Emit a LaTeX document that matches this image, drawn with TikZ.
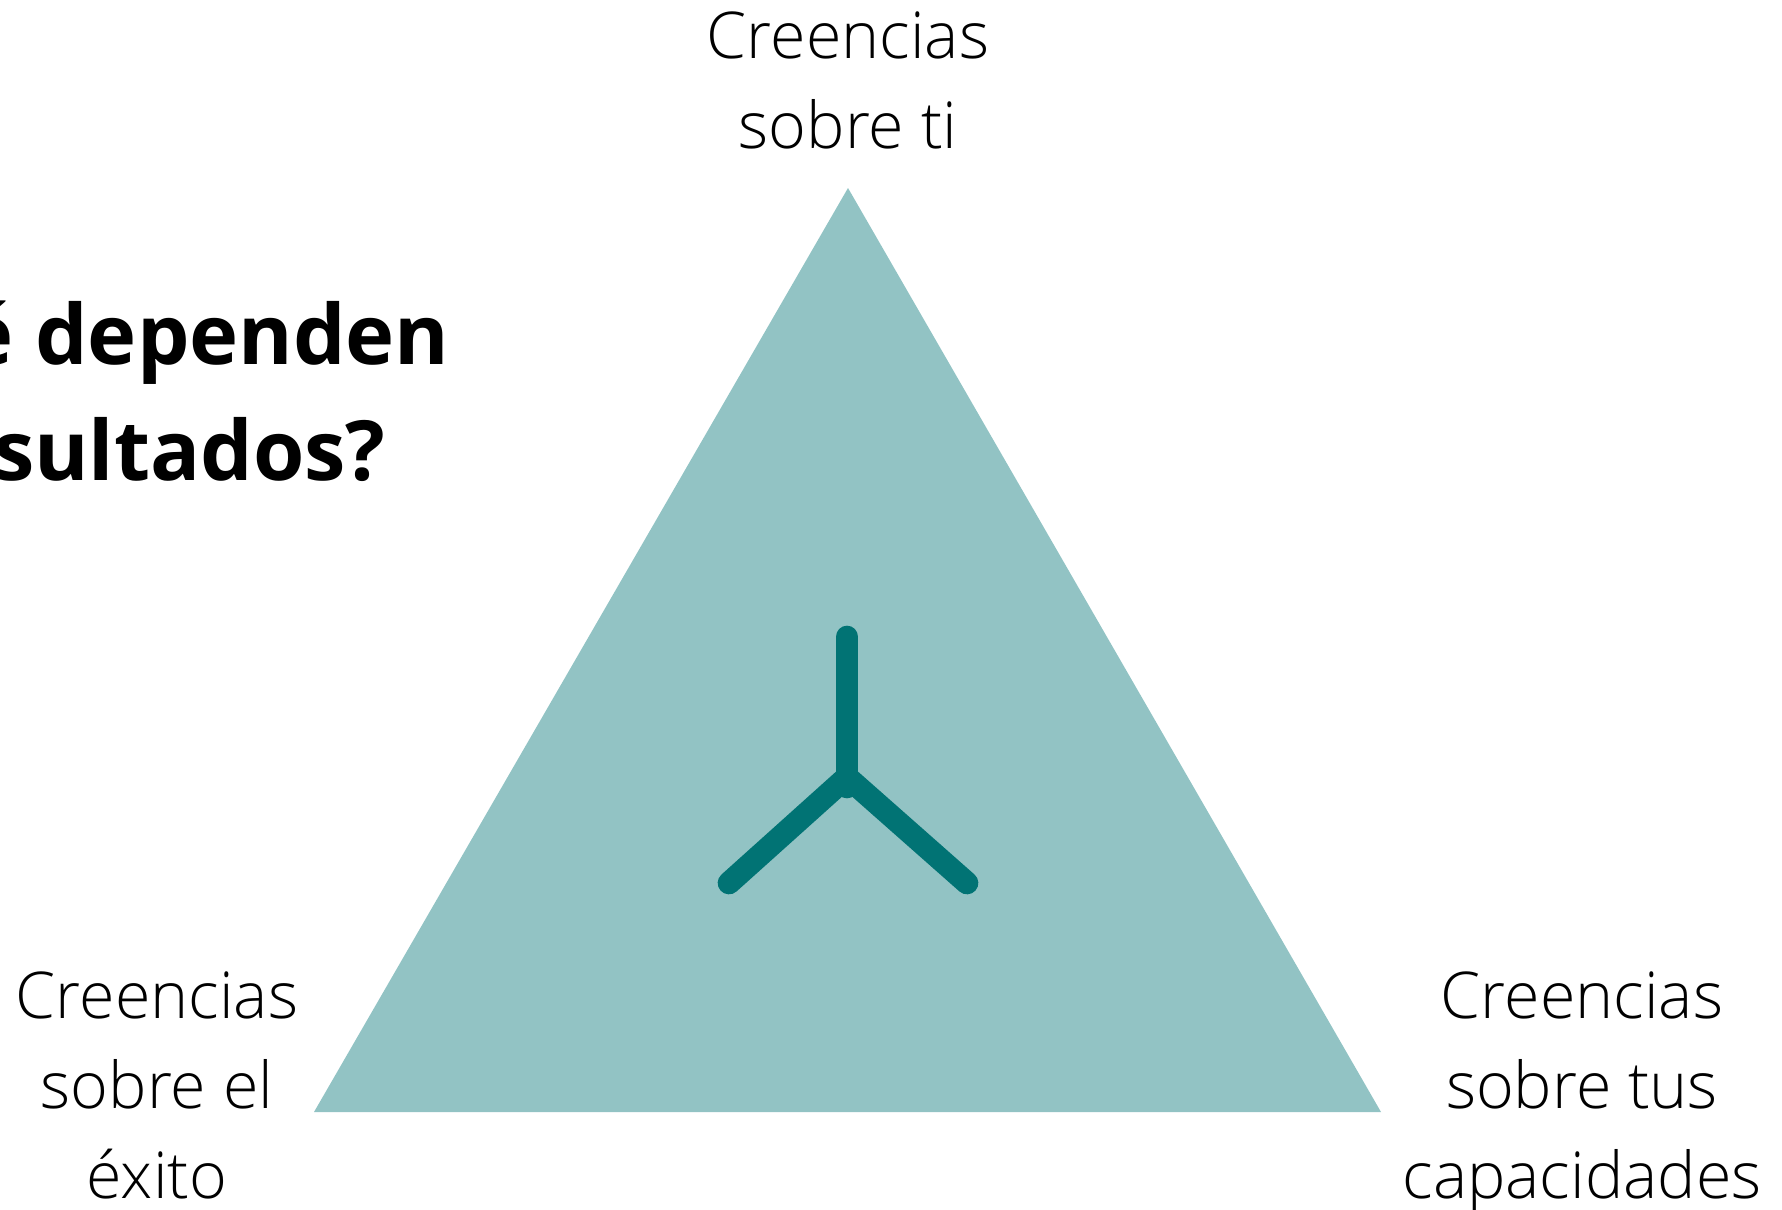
\documentclass[tikz,border=0pt]{standalone}
\usepackage{fontspec}
\setmainfont{Open Sans}
\newfontfamily\lightf{Open Sans Light}
\definecolor{tri}{HTML}{92C3C4}
\definecolor{teal}{HTML}{017374}
\tikzset{x=0.75pt,y=-0.75pt,
 lab/.style={font=\lightf\fontsize{48.4}{67.5}\selectfont,align=center,text=black,inner sep=0pt},
 head/.style={font=\bfseries\fontsize{62.3}{87}\selectfont,align=center,text=black,inner sep=0pt,anchor=east},
 arm/.style={draw=teal,line width=17pt,line cap=round}}
\begin{document}
\begin{tikzpicture}
\useasboundingbox[clip] (0,0) rectangle (1782,1210);
\fill[tri] (848,188) -- (1381,1112) -- (314,1112) -- cycle;
\coordinate (c) at (847,787);
\coordinate (j) at (847,777);
\coordinate (t) at (847,637);
\coordinate (l) at (729,883);
\coordinate (r) at (967,883);
\draw[arm] (c) -- (t);
\draw[arm] (j) -- (l);
\draw[arm] (j) -- (r);
\node[lab] (top) at (848,80) {Creencias\\sobre ti};
\node[lab] (left) at (157,1085) {Creencias\\sobre el\\éxito};
\node[lab] (right) at (1582,1093) {Creencias\\sobre tus\\capacidades};
\node[head] (title) at (454.3,391) {¿De qué dependen\hspace*{3.4pt}\\tus resultados?};
\end{tikzpicture}
\end{document}
